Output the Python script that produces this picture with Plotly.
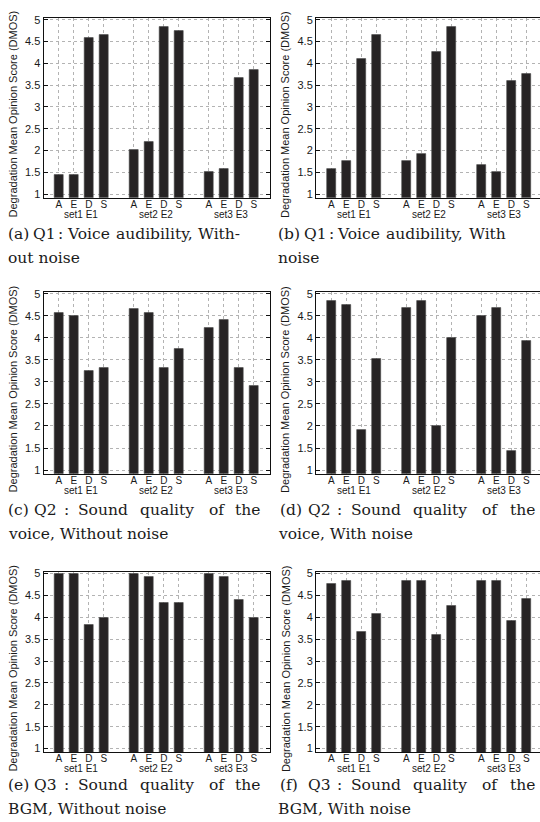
import plotly.graph_objects as go

# ---------------- data ----------------
methods = ["A", "E", "D", "S"]
sets = ["set1 E1", "set2 E2", "set3 E3"]
y_ticks = [1, 1.5, 2, 2.5, 3, 3.5, 4, 4.5, 5]
y_title = "Degradation Mean Opinion Score (DMOS)"

q1_without_noise = [1.43, 1.43, 4.58, 4.65, 2.01, 2.19, 4.83, 4.75, 1.52, 1.59, 3.67, 3.84]
q1_with_noise = [1.59, 1.76, 4.09, 4.66, 1.76, 1.93, 4.25, 4.83, 1.68, 1.51, 3.59, 3.75]
q2_without_noise = [4.57, 4.49, 3.25, 3.32, 4.65, 4.57, 3.32, 3.74, 4.23, 4.40, 3.32, 2.91]
q2_with_noise = [4.83, 4.75, 1.92, 3.52, 4.67, 4.83, 2.01, 4.00, 4.50, 4.67, 1.43, 3.92]
q3_without_noise = [5.00, 5.00, 3.84, 4.00, 5.00, 4.92, 4.33, 4.33, 5.00, 4.92, 4.41, 4.00]
q3_with_noise = [4.76, 4.83, 3.67, 4.08, 4.83, 4.83, 3.59, 4.26, 4.83, 4.83, 3.92, 4.42]

captions = [
    ("(a) Q1 : Voice audibility, With-", "out noise"),
    ("(b) Q1 : Voice audibility, With", "noise"),
    ("(c) Q2 : Sound quality of the", "voice, Without noise"),
    ("(d) Q2 : Sound quality of the", "voice, With noise"),
    ("(e) Q3 : Sound quality of the", "BGM, Without noise"),
    ("(f) Q3 : Sound quality of the", "BGM, With noise"),
]
panel_values = [q1_without_noise, q1_with_noise, q2_without_noise,
                q2_with_noise, q3_without_noise, q3_with_noise]

# ---------------- layout helpers (pixels) ----------------
W, H = 540, 822
col_left = [43.5, 316.0]
col_right = [270.0, 540.0]
row_top = [14.0, 290.0, 572.0]
row_bottom = [195.5, 473.5, 754.0]
cap1_off = [36.5, 36.5, 33.0]
cap2_off = [60.5, 60.5, 56.5]
px_per_unit = 15.0
x_start = -1.03
y_range = [0.91, 5.04]

# word start positions (px) for justified first caption lines
word_x = {
    0: [6, 31, 56, 65, 114, 196],
    1: [276, 302, 327, 335, 384, 467],
    2: [6, 32, 62, 76, 138, 207, 233],
    3: [278, 306, 335, 349, 411, 480, 508],
    4: [6, 32, 62, 76, 138, 207, 233],
    5: [278, 306, 335, 349, 411, 480, 508],
}
cap2_x = [6, 276, 6, 276, 6, 276]

positions = [g * 5 + m for g in range(len(sets)) for m in range(len(methods))]
tick_text = [methods[m] for g in range(len(sets)) for m in range(len(methods))]

def px(x):
    return x / W

def py(y):
    return 1 - y / H

fig = go.Figure()
annotations = []
axis_font = dict(family="Liberation Sans, Arial, sans-serif", size=11, color="#1a1a1a")
xlab_font = dict(family="Liberation Sans, Arial, sans-serif", size=10, color="#1a1a1a")
title_font = dict(family="Liberation Sans, Arial, sans-serif", size=11, color="#1a1a1a")
cap_font = dict(family="DejaVu Serif, serif", size=15.5, color="#1a1a1a")
grid_col = "#b3b3b3"

for i, vals in enumerate(panel_values):
    r, c = divmod(i, 2)
    n = i + 1
    xa = "x" if n == 1 else f"x{n}"
    ya = "y" if n == 1 else f"y{n}"
    fig.add_trace(go.Bar(
        x=positions, y=[v - y_range[0] for v in vals], base=y_range[0], width=0.57,
        marker=dict(color="#262324", line=dict(width=0.6, color="#4a4a4a")),
        xaxis=xa, yaxis=ya, showlegend=False,
        customdata=vals, hovertemplate="%{customdata}<extra></extra>",
    ))

    x0, x1 = col_left[c], col_right[c]
    xr = [x_start, x_start + (x1 - x0) / px_per_unit]
    fig.layout[f"xaxis{'' if n == 1 else n}"] = dict(
        domain=[px(x0), px(x1)], range=xr, anchor=ya,
        tickmode="array", tickvals=positions, ticktext=tick_text,
        showgrid=True, gridcolor=grid_col, griddash="dot", gridwidth=1,
        showline=True, linecolor="#111", linewidth=1, mirror=True,
        ticks="", ticklen=0, ticklabelstandoff=-3,
        tickfont=xlab_font, zeroline=False, fixedrange=True,
    )
    fig.layout[f"yaxis{'' if n == 1 else n}"] = dict(
        domain=[py(row_bottom[r]), py(row_top[r])], range=y_range, anchor=xa,
        tickmode="array", tickvals=y_ticks, ticktext=[f"{t:g}" for t in y_ticks],
        showgrid=True, gridcolor=grid_col, griddash="dot", gridwidth=1,
        showline=True, linecolor="#111", linewidth=1,
        mirror="ticks" if c == 0 else False,
        ticks="inside", ticklen=4, tickcolor="#111",
        tickfont=axis_font, zeroline=False, fixedrange=True,
    )

    # group labels
    for g, s in enumerate(sets):
        gx = x0 + (g * 5 + 1.5 - x_start) * px_per_unit
        annotations.append(dict(
            text=s, x=px(gx), y=py(row_bottom[r] + 16.5), xref="paper", yref="paper",
            xanchor="center", yanchor="middle", showarrow=False, font=xlab_font,
        ))
    # y title
    annotations.append(dict(
        text=y_title, x=px(x0 - 30.5), y=py((row_top[r] + row_bottom[r]) / 2 + 6.5),
        xref="paper", yref="paper", xanchor="center", yanchor="middle",
        textangle=-90, showarrow=False, font=title_font,
    ))
    # captions
    words = captions[i][0].split(" ")
    for w, wx in zip(words, word_x[i]):
        annotations.append(dict(
            text=w, x=px(wx), y=py(row_bottom[r] + cap1_off[r]), xref="paper", yref="paper",
            xanchor="left", yanchor="middle", showarrow=False, font=cap_font,
        ))
    annotations.append(dict(
        text=captions[i][1], x=px(cap2_x[i]), y=py(row_bottom[r] + cap2_off[r]),
        xref="paper", yref="paper", xanchor="left", yanchor="middle",
        showarrow=False, font=cap_font,
    ))

fig.update_layout(
    width=W, height=H, margin=dict(l=0, r=0, t=0, b=0, pad=0),
    paper_bgcolor="white", plot_bgcolor="white",
    annotations=annotations, showlegend=False, bargap=0,
)

fig.write_html(
    "out.html",
    config={"displayModeBar": False},
    post_script="document.body.style.margin='0';document.body.style.overflow='hidden';",
)
